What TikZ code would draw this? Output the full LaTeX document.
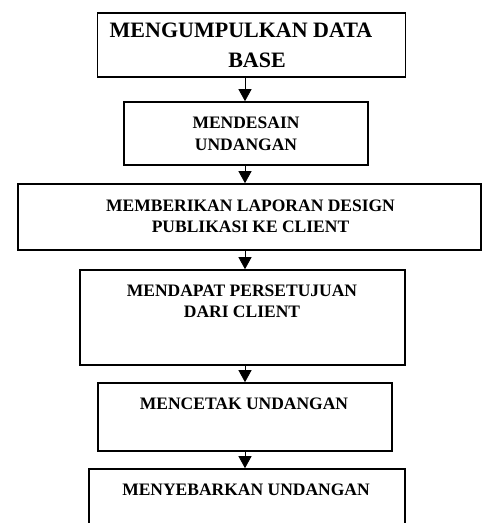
\documentclass[tikz,border=0pt]{standalone}
\usepackage{fontspec}
\setmainfont{Liberation Serif}
\usetikzlibrary{arrows.meta,shapes}

\begin{document}
\begin{tikzpicture}[->,>={Triangle[width=13pt,length=12pt]},x=1pt,y=-1pt,thick,
		box node/.style={rectangle,draw,line width=1.6pt,inner sep=0pt}, text node/.style={align=center,inner sep=0pt,font=\bfseries\fontsize{17.5}{21.5}\selectfont}]
		
		\useasboundingbox (0,0) rectangle (482,523);
		\clip (0,0) rectangle (482,523);
		\coordinate(ax) at (245,0);
		
		\node[box node,minimum width=308pt,minimum height=64pt](b1) at (251.5,45){};
		\node[box node,minimum width=244pt,minimum height=63pt](b2) at (246,133.5){};
		\node[box node,minimum width=463pt,minimum height=66pt](b3) at (249.5,217){};
		\node[box node,minimum width=325pt,minimum height=95pt](b4) at (242.5,317.5){};
		\node[box node,minimum width=294pt,minimum height=68pt](b5) at (245,417){};
		\node[box node,minimum width=316pt,minimum height=91pt](b6) at (247,514.5){};
		
		\node[text node,font=\bfseries\fontsize{22}{29.5}\selectfont](t1) at (241,45.5){MENGUMPULKAN DATA\\\hspace*{32pt}BASE};
		\node[text node](t2) at (246,134){MENDESAIN\\UNDANGAN};
		\node[text node](t3) at (250.5,216.5){MEMBERIKAN LAPORAN DESIGN\\PUBLIKASI KE CLIENT};
		\node[text node](t4) at (242,301.5){MENDAPAT PERSETUJUAN\\DARI CLIENT};
		\node[text node](t5) at (244,404){MENCETAK UNDANGAN};
		\node[text node](t6) at (246,490){MENYEBARKAN UNDANGAN};
		
		\path[]
		(b1.south -| ax) edge (b2.north -| ax)
		(b2.south -| ax) edge (b3.north -| ax)
		(b3.south -| ax) edge (b4.north -| ax)
		(b4.south -| ax) edge (b5.north -| ax)
		(b5.south -| ax) edge (b6.north -| ax);
		
	\end{tikzpicture}
\end{document}
